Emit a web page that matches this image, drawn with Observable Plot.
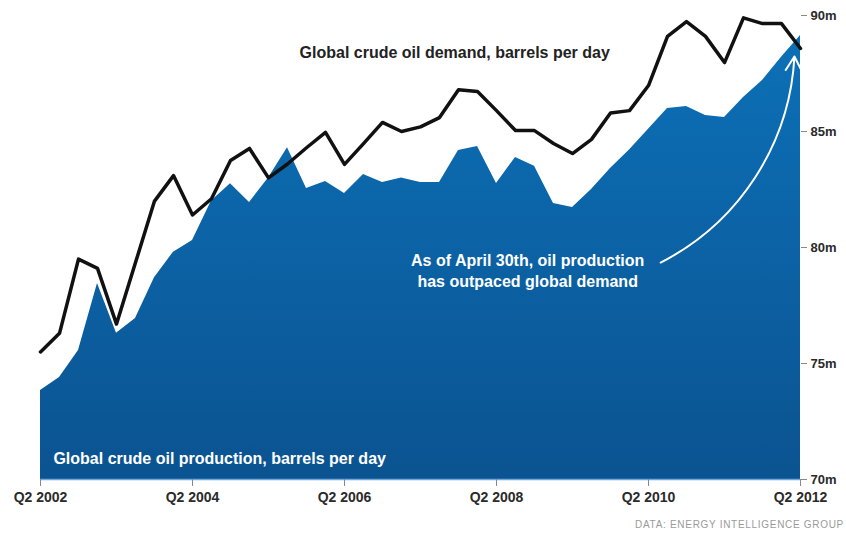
<!DOCTYPE html>
<html>
<head>
<meta charset="utf-8">
<script src="https://cdn.jsdelivr.net/npm/d3@7"></script>
<script src="https://cdn.jsdelivr.net/npm/@observablehq/plot@0.6"></script>
<style>
  html, body { margin: 0; padding: 0; background: #fff; }
  #wrap { position: relative; width: 846px; height: 534px; overflow: hidden; font-family: "Liberation Sans", Arial, Helvetica, sans-serif; }
  #caption { position: absolute; right: 2px; top: 519px; font-size: 10px; letter-spacing: 0.7px; color: #9a9a9a; white-space: nowrap; }
</style>
</head>
<body>
<div id="wrap">
  <div id="chart"></div>
  <div id="caption">DATA: ENERGY INTELLIGENCE GROUP</div>
</div>
<script>
// Quarterly time (Q2 2002 .. Q2 2012), as year fractions
const quarters = d3.range(41).map(i => 2002.25 + i * 0.25);
// Global crude oil demand, million barrels per day
const demand = [75.5, 76.3, 79.5, 79.1, 76.7, 79.35, 82.0, 83.1, 81.4, 82.1,
  83.75, 84.27, 83.0, 83.6, 84.3, 84.96, 83.58, 84.48, 85.39, 85.0,
  85.2, 85.6, 86.8, 86.72, 85.9, 85.04, 85.04, 84.48, 84.05, 84.66,
  85.8, 85.9, 86.98, 89.1, 89.74, 89.1, 87.97, 89.9, 89.65, 89.65, 88.58];
// Global crude oil production, million barrels per day
const production = [73.84, 74.4, 75.56, 78.45, 76.3, 76.94, 78.7, 79.8, 80.3, 82.0,
  82.75, 81.94, 83.0, 84.3, 82.54, 82.84, 82.33, 83.15, 82.8, 83.0,
  82.8, 82.8, 84.18, 84.35, 82.76, 83.88, 83.5, 81.9, 81.72, 82.5,
  83.4, 84.2, 85.1, 85.99, 86.08, 85.69, 85.6, 86.47, 87.2, 88.2, 89.14];
const xTicks = [2002.25, 2004.25, 2006.25, 2008.25, 2010.25, 2012.25];
const yTicks = [70, 75, 80, 85, 90];

const data = quarters.map((t, i) => ({t, demand: demand[i], production: production[i]}));

const gradient = () => {
  const ns = "http://www.w3.org/2000/svg";
  const defs = document.createElementNS(ns, "defs");
  defs.innerHTML = `<linearGradient id="prodGrad" x1="0" y1="0" x2="0" y2="1">
      <stop offset="0" stop-color="#0c70b7"/>
      <stop offset="1" stop-color="#0b5391"/>
    </linearGradient>`;
  return defs;
};

const chart = Plot.plot({
  width: 846,
  height: 534,
  marginLeft: 40,
  marginRight: 46,
  marginTop: 15,
  marginBottom: 55,
  style: {fontFamily: '"Liberation Sans", Arial, Helvetica, sans-serif', color: "#2a2a2a", background: "#fff"},
  x: {domain: [2002.25, 2012.25]},
  y: {domain: [70, 90]},
  marks: [
    gradient,
    Plot.areaY(data, {x: "t", y1: () => 70, y2: "production", fill: "url(#prodGrad)"}),
    Plot.ruleY([70], {stroke: "#6fa8dc", strokeWidth: 1.5}),
    Plot.lineY(data, {x: "t", y: "demand", stroke: "#111", strokeWidth: 3.5, strokeLinejoin: "round"}),
    Plot.axisX({ticks: xTicks, tickFormat: d => "Q2 " + Math.floor(d), tickSize: 7, tickPadding: 6,
      stroke: "#888", fontSize: 14, fontWeight: "bold", label: null}),
    Plot.axisY({anchor: "right", ticks: yTicks, tickFormat: d => d + "m", tickSize: 6, tickPadding: 4,
      stroke: "#888", fontSize: 13, fontWeight: "bold", label: null}),
    Plot.text(["Global crude oil demand, barrels per day"], {x: 2007.7, y: 88.4, fill: "#222",
      fontSize: 16, fontWeight: "bold"}),
    Plot.text(["Global crude oil production, barrels per day"], {x: 2002.42, y: 70.9, fill: "#fff",
      fontSize: 16, fontWeight: "bold", textAnchor: "start"}),
    Plot.text(["As of April 30th, oil production\nhas outpaced global demand"], {x: 2008.66, y: 79.05,
      fill: "#fff", fontSize: 16, fontWeight: "bold", lineHeight: 1.35}),
    Plot.arrow([0], {x1: 2010.41, y1: 79.35, x2: 2012.17, y2: 88.23, bend: -30,
      stroke: "#fff", strokeWidth: 2, headLength: 12})
  ]
});
document.getElementById("chart").appendChild(chart);
</script>
</body>
</html>
